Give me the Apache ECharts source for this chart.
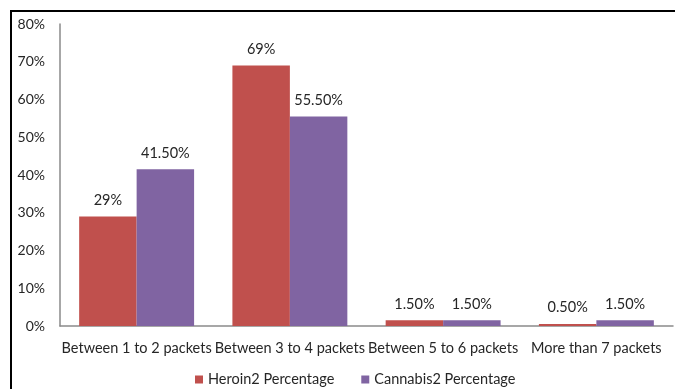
<!DOCTYPE html>
<html>
<head>
<meta charset="utf-8">
<script src="https://cdn.jsdelivr.net/npm/echarts@6/dist/echarts.min.js"></script>
<style>
  html, body { margin: 0; padding: 0; background: #fff; }
  #chart { width: 675px; height: 389px; }
</style>
</head>
<body>
<div id="chart"></div>
<script>
const categories = ['Between 1 to 2 packets', 'Between 3 to 4 packets', 'Between 5 to 6 packets', 'More than 7 packets'];
const heroinValues = [29, 69, 1.5, 0.5];
const cannabisValues = [41.5, 55.5, 1.5, 1.5];
const seriesNames = ['Heroin2 Percentage', 'Cannabis2 Percentage'];
const seriesColors = ['#C0504D', '#8064A2'];

const FONT = 'Lato, "Open Sans", sans-serif';
const TEXT = '#262626';

function pct(v) {
  return Number.isInteger(v) ? v + '%' : v.toFixed(2) + '%';
}

function barSeries(name, data, color) {
  return {
    name: name,
    type: 'bar',
    data: data,
    itemStyle: { color: color },
    barGap: '0%',
    barCategoryGap: '25%',
    label: {
      show: true,
      position: 'top',
      distance: 9,
      color: TEXT,
      fontFamily: FONT,
      fontSize: 14.5,
      formatter: function (p) { return pct(p.value); }
    }
  };
}

const chart = echarts.init(document.getElementById('chart'), null, { renderer: 'canvas' });
chart.setOption({
  animation: false,
  textStyle: { fontFamily: FONT },
  grid: { left: 60, right: 2, top: 24, bottom: 63, containLabel: false },
  graphic: [{
    type: 'rect',
    shape: { x: 11, y: 11, width: 720, height: 420 },
    style: { fill: 'none', stroke: '#000', lineWidth: 2 },
    silent: true,
    z: 100
  }],
  legend: {
    bottom: -3,
    left: 190,
    itemWidth: 8,
    itemHeight: 8,
    itemGap: 27,
    icon: 'rect',
    textStyle: { color: TEXT, fontFamily: FONT, fontSize: 14.5 },
    data: seriesNames
  },
  xAxis: {
    type: 'category',
    data: categories,
    axisLine: { lineStyle: { color: '#8a8a8a', width: 1.5 } },
    axisTick: { show: false },
    axisLabel: { color: TEXT, fontFamily: FONT, fontSize: 14.5, margin: 15, interval: 0 }
  },
  yAxis: {
    type: 'value',
    min: 0,
    max: 80,
    interval: 10,
    axisLine: { show: true, lineStyle: { color: '#8a8a8a', width: 1.5 } },
    axisTick: { show: false },
    splitLine: { show: false },
    axisLabel: { color: TEXT, fontFamily: FONT, fontSize: 14, margin: 15, formatter: '{value}%' }
  },
  series: [
    barSeries(seriesNames[0], heroinValues, seriesColors[0]),
    barSeries(seriesNames[1], cannabisValues, seriesColors[1])
  ]
});
</script>
</body>
</html>
